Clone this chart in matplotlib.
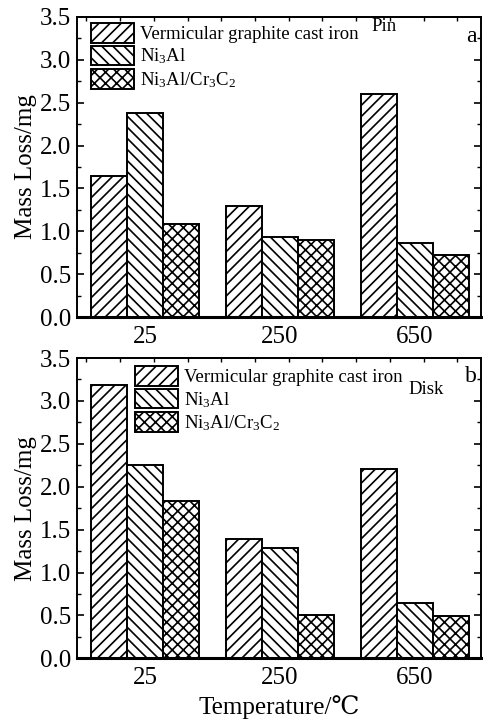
import numpy as np
import matplotlib
matplotlib.use("Agg")
import matplotlib.pyplot as plt

plt.rcParams["font.family"] = ["Liberation Serif", "DejaVu Serif"]
plt.rcParams["mathtext.fontset"] = "custom"
plt.rcParams["mathtext.rm"] = "Liberation Serif"
plt.rcParams["mathtext.it"] = "Liberation Serif"
plt.rcParams["hatch.linewidth"] = 1.2

temps = ["25", "250", "650"]
materials = ["Vermicular graphite cast iron", "Ni$_3$Al", "Ni$_3$Al/Cr$_3$C$_2$"]
hatches = ["///", "\\\\\\", "xxx"]

pin_loss = {
    "vgci": [1.65, 1.30, 2.60],
    "ni3al": [2.38, 0.94, 0.86],
    "cr3c2": [1.09, 0.90, 0.72],
}
disk_loss = {
    "vgci": [3.18, 1.39, 2.21],
    "ni3al": [2.25, 1.29, 0.64],
    "cr3c2": [1.83, 0.51, 0.49],
}
yticks = [0.0, 0.5, 1.0, 1.5, 2.0, 2.5, 3.0, 3.5]

fig = plt.figure(figsize=(4.83, 7.24), dpi=100)
ax_top = fig.add_axes([0.159, 0.5617, 0.837, 0.4152])
ax_bot = fig.add_axes([0.159, 0.0907, 0.837, 0.4148])

x = np.arange(len(temps))
w = 0.267


def draw(ax, data, legend_xy, tag, tag_xy, letter):
    for i, key in enumerate(["vgci", "ni3al", "cr3c2"]):
        ax.bar(x + (i - 1) * w, data[key], w, color="white", edgecolor="black",
               linewidth=1.4, hatch=hatches[i], label=materials[i])
    ax.set_xlim(-0.507, 2.49)
    ax.set_ylim(0, 3.5)
    ax.set_xticks(x)
    ax.set_xticklabels(temps, fontsize=18)
    ax.set_yticks(yticks)
    ax.set_yticklabels([f"{v:.1f}" for v in yticks], fontsize=18)
    ax.set_yticks(np.arange(0.25, 3.5, 0.5), minor=True)
    ax.tick_params(axis="x", length=0, pad=6)
    ax.tick_params(axis="y", which="major", direction="in", length=5, width=1.2,
                   right=True, pad=4)
    ax.tick_params(axis="y", which="minor", direction="in", length=3, width=1.0,
                   right=True)
    top = ax.secondary_xaxis("top")
    top.set_xticks(np.arange(-0.436, 2.49, 0.25))
    top.tick_params(direction="in", length=3, width=1.0, labeltop=False)
    top.spines["top"].set_linewidth(1.4)
    for s in ["left", "right", "top"]:
        ax.spines[s].set_linewidth(1.4)
    ax.spines["bottom"].set_linewidth(2.2)
    ax.set_ylabel("Mass Loss/mg", fontsize=18, labelpad=2)
    ax.legend(loc="upper left", bbox_to_anchor=legend_xy, frameon=False,
              fontsize=13.5, handlelength=2.3, handleheight=1.25,
              labelspacing=0.12, borderpad=0, borderaxespad=0,
              handletextpad=0.3)
    ax.text(tag_xy[0], tag_xy[1], tag, transform=ax.transAxes, fontsize=13.5,
            ha="center", va="center")
    ax.text(0.99, letter[1], letter[0], transform=ax.transAxes, fontsize=17,
            ha="right", va="center")


draw(ax_top, pin_loss, (0.035, 0.979), "Pin", (0.76, 0.968), ("a", 0.933))
draw(ax_bot, disk_loss, (0.1436, 0.973), "Disk", (0.864, 0.895), ("b", 0.937))

ax_bot.set_xlabel("Temperature/\u2103", fontsize=18, labelpad=5,
                  family=["Liberation Serif", "DejaVu Serif", "Noto Sans CJK SC"])

fig.savefig("out.png", dpi=100)
